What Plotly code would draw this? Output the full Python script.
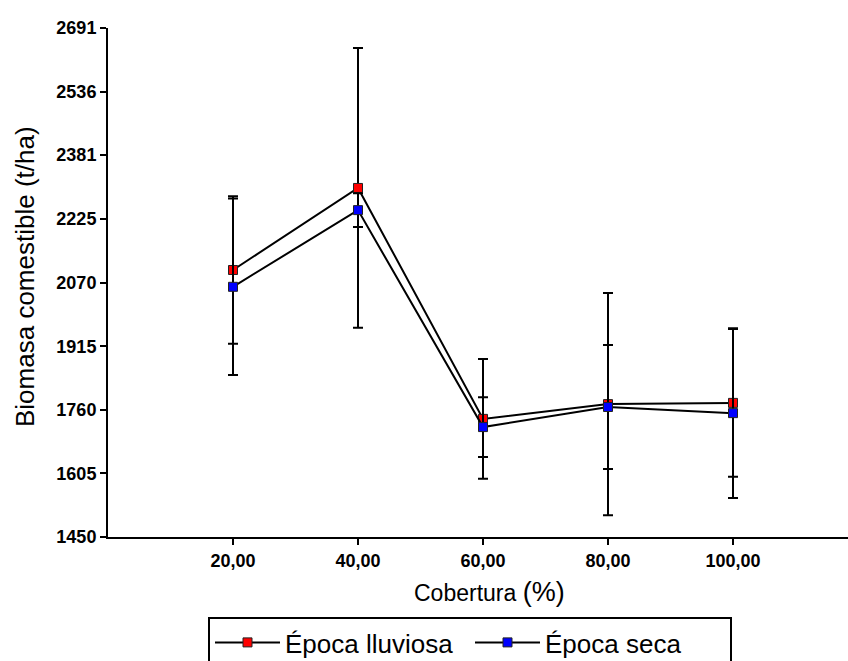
import plotly.graph_objects as go

cobertura = [20, 40, 60, 80, 100]
x_ticklabels = ["20,00", "40,00", "60,00", "80,00", "100,00"]
y_tickvals = [1450, 1605, 1760, 1915, 2070, 2225, 2381, 2536, 2691]

lluviosa = [2101, 2301, 1738, 1774, 1777]
lluviosa_err = [180, 341, 146, 271, 180]
seca = [2060, 2247, 1718, 1767, 1752]
seca_err = [215, 41, 73, 151, 207]

FONT = "Liberation Sans, Arial, sans-serif"

FIG_W, FIG_H = 848, 661
# plot area in page pixels
PL, PT, PB, PR = 108, 28, 537, 848
PW, PH = PR - PL, PB - PT
PX_PER_UNIT = 6.25


def px(X):
    return (X - PL) / PW


def py(Y):
    return (PB - Y) / PH


fig = go.Figure()
for name, vals, errs, color in [
    ("Época lluviosa", lluviosa, lluviosa_err, "#ff0000"),
    ("Época seca", seca, seca_err, "#0000ff"),
]:
    fig.add_trace(go.Scatter(
        x=cobertura, y=vals, name=name, mode="lines+markers",
        line=dict(color="black", width=2),
        marker=dict(symbol="square", size=9, color=color,
                    line=dict(color="#222222", width=1)),
        error_y=dict(type="data", array=errs, visible=True,
                     color="black", thickness=2, width=5),
    ))

fig.update_layout(
    width=FIG_W, height=FIG_H,
    margin=dict(l=PL, r=FIG_W - PR, t=PT, b=FIG_H - PB),
    plot_bgcolor="white", paper_bgcolor="white",
    font=dict(family=FONT, color="black"),
    showlegend=True,
    legend=dict(
        orientation="h",
        xref="container", yref="container",
        x=208 / FIG_W, y=1 - 617 / FIG_H,
        xanchor="left", yanchor="top",
        bordercolor="black", borderwidth=2, bgcolor="white",
        font=dict(size=26, family=FONT, color="black"),
        itemwidth=65, entrywidth=180,
    ),
    xaxis=dict(
        range=[0, PW / PX_PER_UNIT], tickvals=cobertura, ticktext=x_ticklabels,
        showline=True, linecolor="black", linewidth=2,
        ticks="outside", ticklen=6, tickwidth=2, tickcolor="black",
        showgrid=False, zeroline=False,
        tickfont=dict(size=18, family=FONT, weight="bold"),
        automargin=False,
    ),
    yaxis=dict(
        range=[1450, 2691], tickvals=y_tickvals,
        showline=True, linecolor="black", linewidth=2,
        ticks="outside", ticklen=6, tickwidth=2, tickcolor="black",
        showgrid=False, zeroline=False,
        tickfont=dict(size=18, family=FONT, weight="bold"),
        automargin=False,
    ),
    annotations=[
        dict(text="Biomasa comestible (t/ha)", xref="paper", yref="paper",
             x=px(25), y=py(277), xanchor="center", yanchor="middle",
             textangle=-90, showarrow=False,
             font=dict(size=26, family=FONT, color="black")),
        dict(text="Cobertura <span style='font-size:27px'>(%)</span>",
             xref="paper", yref="paper",
             x=px(490), y=py(592), xanchor="center", yanchor="middle",
             showarrow=False,
             font=dict(size=23, family=FONT, color="black")),
    ],
)

# remove the browser's default 8px body margin so the figure fills the page
fig.write_html(
    "out.html",
    config={"displayModeBar": False},
    post_script="document.body.style.margin='0';document.body.style.overflow='hidden';",
)
